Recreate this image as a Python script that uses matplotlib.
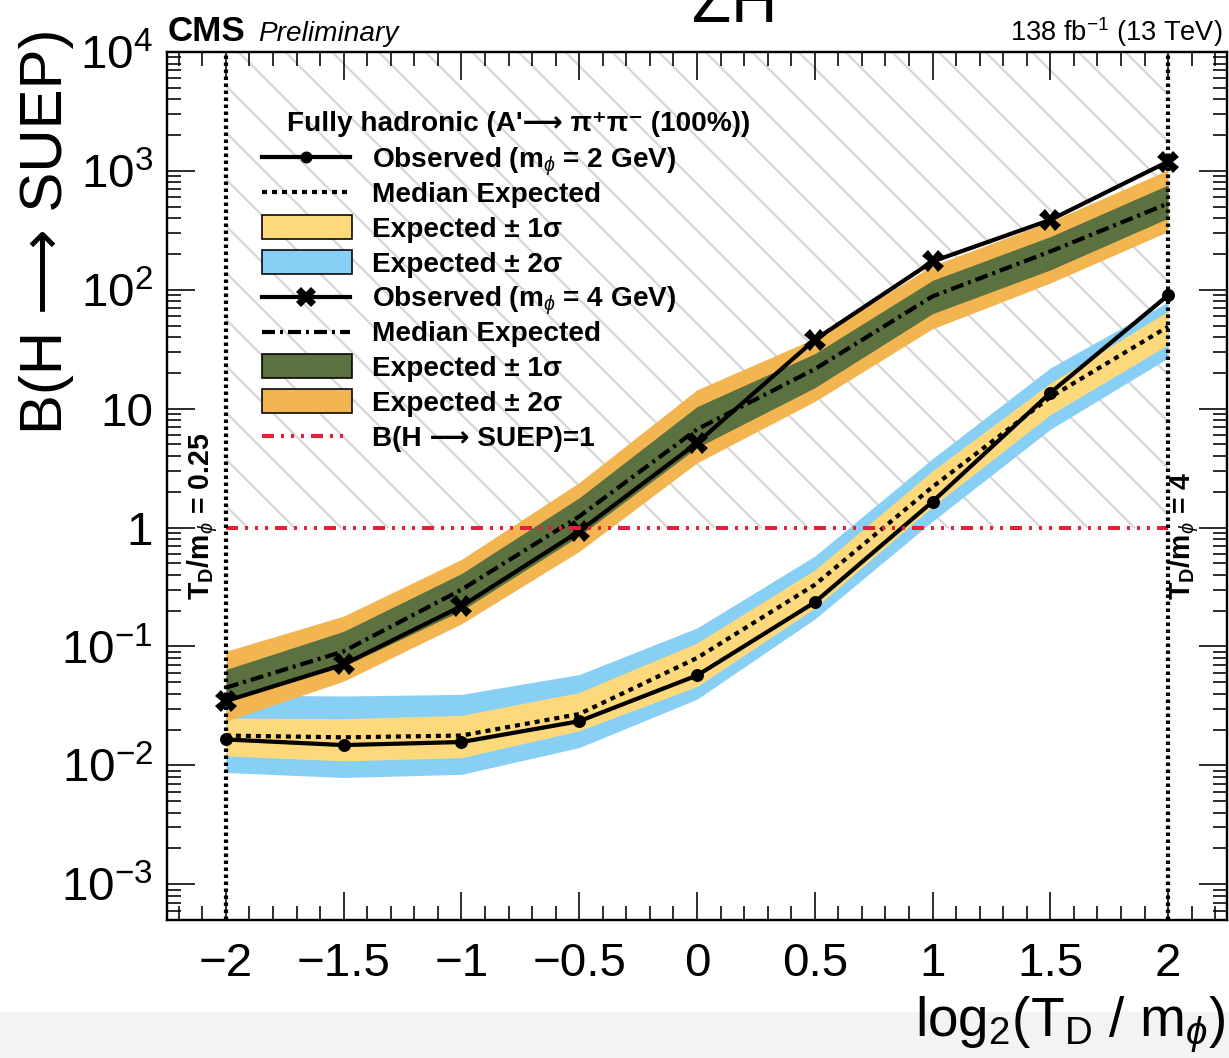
import matplotlib
matplotlib.use("Agg")
import matplotlib.pyplot as plt
from matplotlib.lines import Line2D
from matplotlib.patches import Rectangle
from matplotlib.ticker import FixedLocator, MultipleLocator, LogLocator, NullFormatter

DPI = 140
W, H = 1229, 1058
PT = 72.0 / DPI  # points per pixel

plt.rcParams["font.family"] = ["Liberation Sans", "DejaVu Sans"]
plt.rcParams["mathtext.fontset"] = "custom"
plt.rcParams["mathtext.rm"] = "Liberation Sans"
plt.rcParams["mathtext.it"] = "Liberation Sans:italic"
plt.rcParams["mathtext.bf"] = "Liberation Sans:bold"
plt.rcParams["mathtext.sf"] = "Liberation Sans"
plt.rcParams["lines.scale_dashes"] = False
plt.rcParams["hatch.linewidth"] = 2.2 * PT
plt.rcParams["hatch.color"] = "#d6d6d6"

# ---- limits vs log2(T_D / m_phi) ----
log2_td_mphi = [-2, -1.5, -1, -0.5, 0, 0.5, 1, 1.5, 2]

# m_phi = 2 GeV
obs_m2 = [0.0165, 0.0148, 0.0157, 0.0235, 0.057, 0.235, 1.65, 13.6, 90]
exp_m2 = [0.0178, 0.0172, 0.0178, 0.027, 0.080, 0.33, 2.2, 12.5, 49]
exp_m2_p1 = [0.025, 0.0247, 0.0263, 0.041, 0.107, 0.44, 3.0, 16.4, 66]
exp_m2_m1 = [0.012, 0.0109, 0.0116, 0.0195, 0.046, 0.21, 1.5, 8.9, 34.5]
exp_m2_p2 = [0.039, 0.0383, 0.0395, 0.058, 0.143, 0.575, 3.8, 22, 79]
exp_m2_m2 = [0.0087, 0.0079, 0.0084, 0.0141, 0.036, 0.17, 1.13, 6.7, 26.7]

# m_phi = 4 GeV
obs_m4 = [0.0347, 0.0706, 0.218, 0.93, 5.15, 38, 173, 387, 1197]
exp_m4 = [0.045, 0.091, 0.30, 1.24, 6.7, 21.5, 88, 210, 532]
exp_m4_p1 = [0.064, 0.134, 0.41, 1.78, 10.4, 29, 120, 280, 762]
exp_m4_m1 = [0.034, 0.068, 0.20, 0.85, 4.7, 15, 63, 147, 400]
exp_m4_p2 = [0.091, 0.18, 0.54, 2.39, 14.4, 39, 160, 375, 1019]
exp_m4_m2 = [0.0236, 0.051, 0.155, 0.63, 3.5, 11.5, 47, 114, 309]

x_ticks = [-2, -1.5, -1, -0.5, 0, 0.5, 1, 1.5, 2]
x_ticklabels = ["\u22122", "\u22121.5", "\u22121", "\u22120.5", "0", "0.5", "1", "1.5", "2"]
y_ticks = [1e-3, 1e-2, 1e-1, 1, 10, 1e2, 1e3, 1e4]
y_ticklabels = [r"$10^{-3}$", r"$10^{-2}$", r"$10^{-1}$", "1", "10",
                r"$10^{2}$", r"$10^{3}$", r"$10^{4}$"]
td_bounds = [-2, 2]
td_bound_labels = [r"T$_{\mathbf{D}}$/m$_{\phi}$ = 0.25", r"T$_{\mathbf{D}}$/m$_{\phi}$ = 4"]

YELLOW = "#fed97c"
BLUE = "#88cff6"
GREEN = "#5b7140"
ORANGE = "#f3b550"
RED = "#e5203a"
ARROW = "\u27f6"


def fx(px):
    return px / W


def fy(py):
    return 1.0 - py / H


fig = plt.figure(figsize=(W / DPI, H / DPI), dpi=DPI)
fig.patches.append(Rectangle((0, 0), 1, fy(1012), transform=fig.transFigure,
                             facecolor="#f3f3f3", edgecolor="none", zorder=-10))

ax = fig.add_axes([fx(167), fy(920), fx(1227) - fx(167), fy(52) - fy(920)])
ax.set_yscale("log")
ax.set_xlim(-2.25, 2.25)
ax.set_ylim(5e-4, 1e4)

# excluded region B > 1
ax.fill_between(td_bounds, 1, 1e4, facecolor="none", edgecolor="#d6d6d6",
                hatch="\\", linewidth=0, zorder=0)

# expected bands
ax.fill_between(log2_td_mphi, exp_m2_m2, exp_m2_p2, color=BLUE, lw=0, zorder=1)
ax.fill_between(log2_td_mphi, exp_m2_m1, exp_m2_p1, color=YELLOW, lw=0, zorder=1.1)
ax.fill_between(log2_td_mphi, exp_m4_m2, exp_m4_p2, color=ORANGE, lw=0, zorder=1.2)
ax.fill_between(log2_td_mphi, exp_m4_m1, exp_m4_p1, color=GREEN, lw=0, zorder=1.3)

LW = 4.2 * PT
dotted = (0, (5 * PT, 5 * PT))
dashdot = (0, (13 * PT, 5 * PT, 3 * PT, 5 * PT))
reddash = (0, (12 * PT, 7 * PT, 3 * PT, 7 * PT, 3 * PT, 7 * PT, 3 * PT, 7 * PT))

ax.plot(log2_td_mphi, exp_m2, color="black", lw=LW, ls=dotted, zorder=3)
ax.plot(log2_td_mphi, exp_m4, color="black", lw=LW, ls=dashdot, zorder=3)
ax.plot(log2_td_mphi, obs_m2, color="black", lw=LW, marker="o",
        ms=11 * PT, zorder=4)
ax.plot(log2_td_mphi, obs_m4, color="black", lw=LW, marker="X",
        ms=22 * PT, mew=0, zorder=4)

ax.plot(td_bounds, [1, 1], color=RED, lw=4 * PT, ls=reddash, zorder=5)
for xb in td_bounds:
    ax.axvline(xb, color="black", lw=4.2 * PT, ls=(0, (3.5 * PT, 3.5 * PT)), zorder=6)

lbl_kw = dict(rotation=90, ha="center", va="bottom", fontsize=28.5 * PT,
              fontweight="bold", transform=fig.transFigure)
fig.text(fx(203), fy(600), td_bound_labels[0], **lbl_kw)
fig.text(fx(1184), fy(600), td_bound_labels[1], **lbl_kw)

# axes styling
ax.xaxis.set_major_locator(FixedLocator(x_ticks))
ax.set_xticklabels(x_ticklabels)
ax.xaxis.set_minor_locator(MultipleLocator(0.1))
ax.yaxis.set_major_locator(FixedLocator(y_ticks))
ax.set_yticklabels(y_ticklabels)
ax.yaxis.set_minor_locator(LogLocator(base=10, subs=range(2, 10), numticks=100))
ax.yaxis.set_minor_formatter(NullFormatter())
ax.tick_params(which="both", direction="in", top=True, right=True,
               width=1.6 * PT, colors="black")
ax.tick_params(which="major", length=28 * PT, labelsize=47.5 * PT)
ax.tick_params(which="minor", length=14 * PT)
ax.tick_params(axis="x", which="major", pad=22 * PT)
ax.tick_params(axis="y", which="major", pad=14 * PT)
for sp in ax.spines.values():
    sp.set_linewidth(2.4 * PT)

fig.text(fx(47), fy(28), "B(H " + ARROW + " SUEP)", rotation=90, ha="center",
         va="top", fontsize=60 * PT)
fig.text(fx(1225), fy(1036), r"log$_{2}$(T$_{\mathrm{D}}$ / m$_{\phi}$)", ha="right",
         va="baseline", fontsize=55 * PT)

fig.text(fx(168), fy(41), "CMS", ha="left", va="baseline", fontsize=35 * PT,
         fontweight="bold")
fig.text(fx(258), fy(41), "Preliminary", ha="left", va="baseline",
         fontsize=28 * PT, fontstyle="italic")
fig.text(fx(1222), fy(41), r"138 fb$^{-1}$ (13 TeV)", ha="right", va="baseline",
         fontsize=27.3 * PT)
fig.text(fx(735), fy(22), "ZH", ha="center", va="baseline", fontsize=64 * PT)

# legend
leg_fs = 28 * PT
fig.text(fx(287), fy(131), "Fully hadronic (A'" + ARROW + " \u03c0\u207a\u03c0\u207b (100%))",
         ha="left", va="baseline", fontsize=leg_fs, fontweight="bold")

rows = [157 + 34.9 * i for i in range(9)]
entries = [
    ("line", dict(ls="-", marker="o", ms=10 * PT), r"Observed (m$_{\phi}$ = 2 GeV)"),
    ("line", dict(ls=dotted), "Median Expected"),
    ("box", YELLOW, "Expected \u00b1 1\u03c3"),
    ("box", BLUE, "Expected \u00b1 2\u03c3"),
    ("line", dict(ls="-", marker="X", ms=20 * PT, mew=0), r"Observed (m$_{\phi}$ = 4 GeV)"),
    ("line", dict(ls=dashdot), "Median Expected"),
    ("box", GREEN, "Expected \u00b1 1\u03c3"),
    ("box", ORANGE, "Expected \u00b1 2\u03c3"),
    ("red", dict(ls=reddash), "B(H " + ARROW + " SUEP)=1"),
]
for yrow, (kind, style, label) in zip(rows, entries):
    if kind == "box":
        fig.patches.append(Rectangle((fx(262), fy(yrow + 12)), fx(352) - fx(262),
                                     fy(yrow - 12) - fy(yrow + 12),
                                     transform=fig.transFigure, facecolor=style,
                                     edgecolor="black", lw=1.6 * PT))
    else:
        color = RED if kind == "red" else "black"
        ls = style.get("ls", "-")
        fig.add_artist(Line2D([fx(262), fx(350)], [fy(yrow), fy(yrow)],
                              transform=fig.transFigure, color=color, lw=LW, ls=ls))
        if "marker" in style:
            fig.add_artist(Line2D([fx(306)], [fy(yrow)], transform=fig.transFigure,
                                  color="black", marker=style["marker"],
                                  ms=style["ms"], mew=style.get("mew", 1), ls="none"))
    fig.text(fx(372), fy(yrow + 10), label, ha="left", va="baseline",
             fontsize=leg_fs, fontweight="bold")

fig.savefig("out.png", dpi=DPI)
